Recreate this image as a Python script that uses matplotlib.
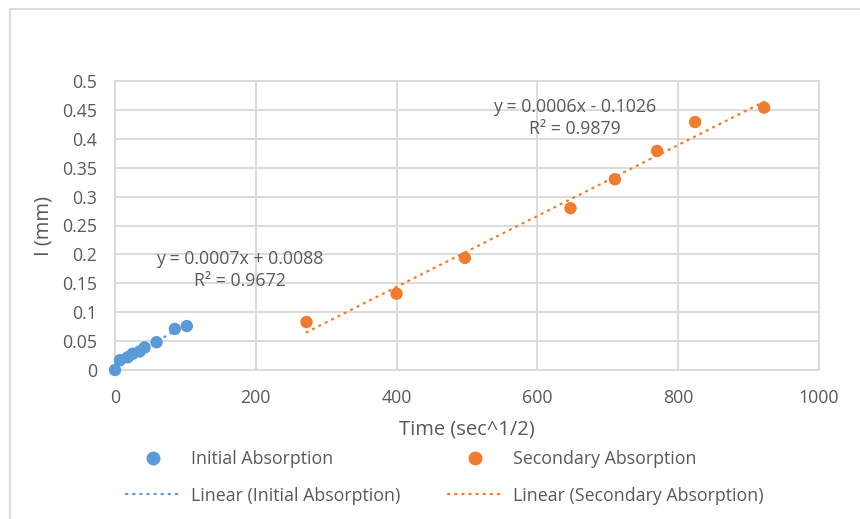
import numpy as np
import matplotlib
matplotlib.use("Agg")
import matplotlib.pyplot as plt
from matplotlib.lines import Line2D
from matplotlib.patches import Rectangle

plt.rcParams['font.family'] = ['Open Sans', 'DejaVu Sans']

# Data
init_x = [0, 7, 18, 25, 35, 42, 59, 85, 102]
init_y = [0.0, 0.017, 0.022, 0.028, 0.032, 0.039, 0.048, 0.071, 0.076]
sec_x = [272, 400, 497, 647, 710, 770, 824, 922]
sec_y = [0.083, 0.132, 0.194, 0.280, 0.330, 0.379, 0.429, 0.454]
init_eq = "y = 0.0007x + 0.0088\nR² = 0.9672"
sec_eq = "y = 0.0006x - 0.1026\nR² = 0.9879"
x_ticks = [0, 200, 400, 600, 800, 1000]
y_ticks = [0, 0.05, 0.1, 0.15, 0.2, 0.25, 0.3, 0.35, 0.4, 0.45, 0.5]
y_ticklabels = ["0", "0.05", "0.1", "0.15", "0.2", "0.25", "0.3", "0.35", "0.4", "0.45", "0.5"]

BLUE = "#5B9BD5"
ORANGE = "#ED7D31"
TXT = "#595959"
GRID = "#D9D9D9"
FS = 12.8
FPX = FS * 100 / 72

W, H = 860, 519
fig = plt.figure(figsize=(W / 100, H / 100), dpi=100)
ax = fig.add_axes([115 / W, 1 - 370 / H, (819 - 115) / W, (370 - 81) / H])

# chart frame (cropped at right/bottom)
fig.add_artist(Rectangle((10 / W, -0.1), 1.2, 1.1 - 9 / H, transform=fig.transFigure,
                         fill=False, edgecolor=GRID, linewidth=1.3))

# trendlines
ix = np.array(init_x, float); iy = np.array(init_y, float)
sx = np.array(sec_x, float); sy = np.array(sec_y, float)
pi = np.polyfit(ix, iy, 1)
ps = np.polyfit(sx, sy, 1)
xi = np.array([ix.min(), ix.max()])
xs = np.array([sx.min(), sx.max()])
dot = (0, (0.6, 2.6))
ax.plot(xi, np.polyval(pi, xi), color=BLUE, lw=1.6, linestyle=dot, dash_capstyle='round', zorder=2)
ax.plot(xs, np.polyval(ps, xs), color=ORANGE, lw=1.6, linestyle=dot, dash_capstyle='round', zorder=2)

ax.scatter(init_x, init_y, s=80, color=BLUE, edgecolors='none', zorder=3, clip_on=False)
ax.scatter(sec_x, sec_y, s=80, color=ORANGE, edgecolors='none', zorder=3, clip_on=False)

ax.set_xlim(0, 1000)
ax.set_ylim(0, 0.5)
ax.set_xticks(x_ticks)
ax.set_yticks(y_ticks)
ax.set_yticklabels(y_ticklabels)
ax.tick_params(axis='both', length=0, labelsize=FS, labelcolor=TXT)
ax.tick_params(axis='x', pad=14)
ax.tick_params(axis='y', pad=13)
ax.grid(True, color=GRID, linewidth=1.3)
ax.set_axisbelow(True)
for sp in ax.spines.values():
    sp.set_color(GRID)
    sp.set_linewidth(1.3)

ax.set_xlabel("Time (sec^1/2)", fontsize=14.5, color=TXT, labelpad=9)
ax.set_ylabel("I (mm)", fontsize=14.5, color=TXT, labelpad=6)

ax.text(653, 0.436, sec_eq, ha='center', va='center', fontsize=FS, color=TXT,
        multialignment='center', linespacing=1.35)
ax.text(177, 0.173, init_eq, ha='center', va='center', fontsize=FS, color=TXT,
        multialignment='center', linespacing=1.35)

# legend
handles = [Line2D([], [], marker='o', linestyle='none', color=BLUE, markersize=9),
           Line2D([], [], color=BLUE, lw=1.6, linestyle=dot, dash_capstyle='round'),
           Line2D([], [], marker='o', linestyle='none', color=ORANGE, markersize=9),
           Line2D([], [], color=ORANGE, lw=1.6, linestyle=dot, dash_capstyle='round')]
labels = ["Initial Absorption", "Linear (Initial Absorption)",
          "Secondary Absorption", "Linear (Secondary Absorption)"]
fig.legend(handles, labels, ncol=2, loc='center left',
           bbox_to_anchor=(126 / W, 1 - 477.5 / H), frameon=False,
           prop={'size': FS, 'weight': 'normal'}, labelcolor=TXT,
           handlelength=54 / FPX, handletextpad=11 / FPX, columnspacing=48 / FPX,
           labelspacing=1.03, borderpad=0, borderaxespad=0)

fig.savefig("out.png", dpi=100)
